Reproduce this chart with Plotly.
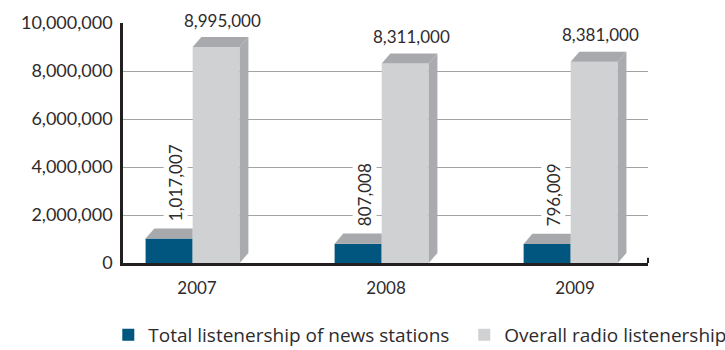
import plotly.graph_objects as go

# Listener counts per year
years = ["2007", "2008", "2009"]
news_listeners = [1017007, 807008, 796009]
radio_listeners = [8995000, 8311000, 8381000]
y_ticks = [0, 2000000, 4000000, 6000000, 8000000, 10000000]
y_tick_text = ["0", "2,000,000", "4,000,000", "6,000,000", "8,000,000", "10,000,000"]

NEWS_FRONT = "#00567f"
RADIO_FRONT = "#d0d1d3"
FACE_TOP = "#a7a9ac"
FACE_SIDE = "#a9abae"
TEXT = "#2e2b2c"
FONT = "Lato"
LEGEND_FONT = "Open Sans"

# bar geometry in axis units (category spacing = 1)
BAR_W = 0.249
DEPTH_X = 0.046
DEPTH_Y = 420000

pos = list(range(len(years)))

fig = go.Figure()
fig.add_bar(
    x=pos, y=news_listeners, width=BAR_W, offset=-BAR_W - DEPTH_X / 2,
    marker=dict(color=NEWS_FRONT, line=dict(width=0)),
    name="Total listenership of news stations", hoverinfo="skip",
    legend="legend",
)
fig.add_bar(
    x=pos, y=radio_listeners, width=BAR_W, offset=-DEPTH_X / 2,
    marker=dict(color=RADIO_FRONT, line=dict(width=0)),
    name="Overall radio listenership", hoverinfo="skip",
    legend="legend2",
)


def face(xs, ys, color):
    fig.add_scatter(
        x=xs + [xs[0]], y=ys + [ys[0]], mode="lines", fill="toself",
        fillcolor=color, line=dict(width=0, color=color),
        showlegend=False, hoverinfo="skip",
    )


annotations = []
for i, (n, r) in enumerate(zip(news_listeners, radio_listeners)):
    # news bar: top face (the right part is hidden behind the radio bar)
    bx0 = i - BAR_W - DEPTH_X / 2
    bx1 = i - DEPTH_X / 2
    face([bx0, bx0 + DEPTH_X, bx1, bx1], [n, n + DEPTH_Y, n + DEPTH_Y, n], FACE_TOP)
    # radio bar: top and side faces
    gx0 = i - DEPTH_X / 2
    gx1 = gx0 + BAR_W
    face([gx0, gx0 + DEPTH_X, gx1 + DEPTH_X, gx1], [r, r + DEPTH_Y, r + DEPTH_Y, r], FACE_TOP)
    face([gx1, gx1 + DEPTH_X, gx1 + DEPTH_X, gx1], [0, DEPTH_Y, r + DEPTH_Y, r], FACE_SIDE)

    annotations.append(dict(
        x=(gx0 + gx1) / 2, y=r + DEPTH_Y, xref="x", yref="y",
        text=f"{r:,}", showarrow=False, yanchor="middle", yshift=17, xshift=6,
        bgcolor="white", font=dict(family=FONT, size=17, color=TEXT),
    ))
    annotations.append(dict(
        x=(bx0 + bx1) / 2, y=n + DEPTH_Y, xref="x", yref="y",
        text=f"{n:,}", showarrow=False, textangle=-90, yanchor="bottom",
        yshift=5, xshift=6, bgcolor="white",
        font=dict(family=FONT, size=17, color=TEXT),
    ))

legend_style = dict(
    orientation="h", xanchor="left", y=-0.3, yanchor="middle",
    font=dict(family=LEGEND_FONT, size=19, color=TEXT),
    itemwidth=30, bgcolor="rgba(0,0,0,0)",
)

fig.update_layout(
    width=725, height=350,
    margin=dict(l=123, r=77, t=23, b=87, autoexpand=False),
    paper_bgcolor="white", plot_bgcolor="white",
    barmode="overlay",
    showlegend=True,
    legend=dict(x=-0.028, **legend_style),
    legend2=dict(x=0.65, **legend_style),
    annotations=annotations,
    shapes=[dict(
        type="line", xref="paper", yref="y", x0=1, x1=1, y0=0, y1=220000,
        line=dict(color="#231f20", width=2),
    )],
)
fig.update_xaxes(
    range=[-0.3915, 2.386], tickvals=pos, ticktext=years,
    showgrid=False, zeroline=False, showline=True,
    linecolor="#231f20", linewidth=2.5, ticks="", ticklabelstandoff=8,
    tickfont=dict(family=FONT, size=17, color=TEXT), fixedrange=True,
)
fig.update_yaxes(
    range=[0, 10000000], tickvals=y_ticks, ticktext=y_tick_text,
    showgrid=True, gridcolor="#a3a3a3", gridwidth=1,
    zeroline=False, showline=True, linecolor="#231f20", linewidth=2.5,
    ticks="", ticklabelstandoff=4,
    tickfont=dict(family=FONT, size=18, color=TEXT), fixedrange=True,
)

fig.write_html("out.html")
